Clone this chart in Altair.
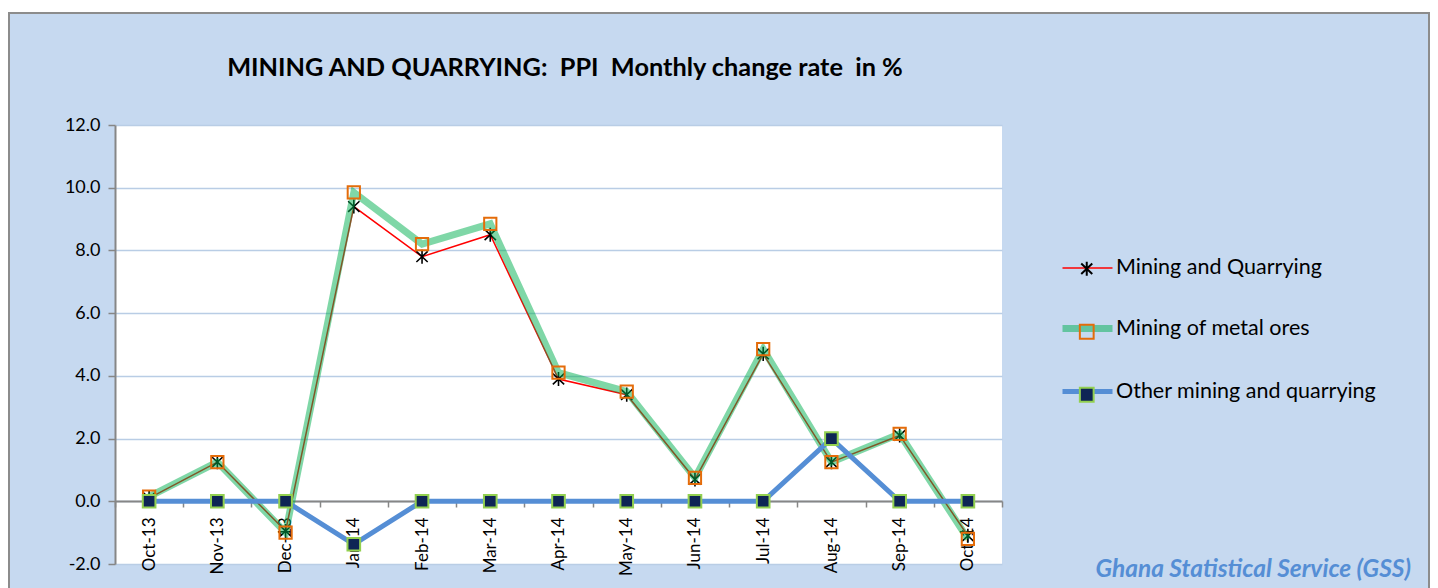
import altair as alt
import pandas as pd

months = ["Oct-13", "Nov-13", "Dec-13", "Jan-14", "Feb-14", "Mar-14", "Apr-14",
          "May-14", "Jun-14", "Jul-14", "Aug-14", "Sep-14", "Oct-14"]
series_names = ["Mining and Quarrying", "Mining of metal ores", "Other mining and quarrying"]
mining_quarrying = [0.1, 1.25, -0.95, 9.4, 7.8, 8.5, 3.9, 3.4, 0.7, 4.7, 1.25, 2.1, -1.1]
metal_ores = [0.15, 1.25, -1.0, 9.85, 8.2, 8.85, 4.1, 3.5, 0.75, 4.85, 1.25, 2.15, -1.2]
other_mining = [0.0, 0.0, 0.0, -1.37, 0.0, 0.0, 0.0, 0.0, 0.0, 0.0, 2.0, 0.0, 0.0]
y_ticks = [-2, 0, 2, 4, 6, 8, 10, 12]
title_text = ["MINING AND QUARRYING:\u00a0 PPI\u00a0 Monthly change rate\u00a0 in %"]
footer_text = ["Ghana Statistical Service (GSS)"]

line_colors = ["#FF0000", "rgba(0,176,80,0.5)", "#558ED5"]
line_widths = [1.5, 7, 5]
pt_keys = ["p1", "p2", "p3"]
STAR = "M0,-1L0,1M-0.8,-0.75L0.8,0.75M-0.8,0.75L0.8,-0.75"
pt_shapes = [STAR, "square", "square"]
pt_fills = ["transparent", "transparent", "#0E2555"]
pt_strokes = ["#000000", "#E46C0A", "#92D050"]

rows = []
for name, key, vals in zip(series_names, pt_keys, [mining_quarrying, metal_ores, other_mining]):
    for m, v in zip(months, vals):
        rows.append({"month": m, "value": v, "series": name, "pt": key})
df = pd.DataFrame(rows)

FONT = "Lato"
W, H = 887, 439

x_enc = alt.X("month:N", sort=months,
              scale=alt.Scale(type="band", domain=months, paddingInner=0, paddingOuter=0),
              axis=alt.Axis(title=None, orient="bottom", offset=-63, labelAngle=270,
                            labelFontSize=17, labelFont=FONT, labelColor="#000000",
                            labelPadding=10, tickBand="extent", tickSize=6,
                            tickColor="#868686", tickWidth=1.5, domainColor="#868686",
                            domainWidth=2, grid=False))
y_enc = alt.Y("value:Q",
              scale=alt.Scale(domain=[-2, 12], nice=False, zero=False),
              axis=alt.Axis(title=None, values=y_ticks,
                            labelExpr="datum.value < 0 ? '-' + format(-datum.value, '.1f') : format(datum.value, '.1f')",
                            labelFontSize=18,
                            labelFont=FONT, labelColor="#000000", labelPadding=8,
                            tickSize=7, tickColor="#868686", tickWidth=1.5,
                            domainColor="#868686", domainWidth=2,
                            gridColor="#B9CDE5", gridWidth=1.5))

line_legend = alt.Legend(title=None, orient="none", legendX=944, legendY=117,
                         symbolSize=2500, labelFontSize=21.5, labelFont=FONT,
                         labelColor="#000000", labelOffset=0, rowPadding=21,
                         labelLimit=500)
pt_legend = alt.Legend(title=None, orient="none", legendX=961, legendY=133,
                       symbolSize=190, symbolStrokeWidth=2, labelFontSize=21.5,
                       labelFont=FONT, labelOpacity=0, labelExpr="' '", labelOffset=6,
                       rowPadding=40, labelLimit=500)

color_enc = alt.Color("series:N", scale=alt.Scale(domain=series_names, range=line_colors),
                      legend=line_legend)
sw_enc = alt.StrokeWidth("series:N",
                         scale=alt.Scale(type="ordinal", domain=series_names, range=line_widths),
                         legend=line_legend)
shape_enc = alt.Shape("pt:N", scale=alt.Scale(domain=pt_keys, range=pt_shapes), legend=pt_legend)
fill_enc = alt.Fill("pt:N", scale=alt.Scale(domain=pt_keys, range=pt_fills), legend=pt_legend)
stroke_enc = alt.Stroke("pt:N", scale=alt.Scale(domain=pt_keys, range=pt_strokes), legend=pt_legend)
pt_sizes = {"p1": 200, "p2": 150, "p3": 160}

base = alt.Chart(df)


def line_layer(name):
    return base.transform_filter(alt.datum.series == name).mark_line().encode(
        x=x_enc, y=y_enc, color=color_enc, strokeWidth=sw_enc)


def point_layer(key):
    return base.transform_filter(alt.datum.pt == key).mark_point(
        size=pt_sizes[key], strokeWidth=2 if key != "p1" else 1.6, opacity=1).encode(
        x=x_enc, y=y_enc, shape=shape_enc, fill=fill_enc, stroke=stroke_enc)


top_strip = alt.Chart(alt.Data(values=[{}])).mark_rect(fill="#FFFFFF").encode(
    x=alt.value(-107), x2=alt.value(1315), y=alt.value(-117), y2=alt.value(-113))

border = alt.Chart(alt.Data(values=[{}])).mark_rect(
    fill="transparent", stroke="#8C8C8C", strokeWidth=2).encode(
    x=alt.value(-106), x2=alt.value(1314), y=alt.value(-112), y2=alt.value(470))

title = alt.Chart(pd.DataFrame({"t": title_text})).mark_text(
    font=FONT, fontSize=25.3, fontWeight="bold", color="#000000",
    align="center", baseline="alphabetic").encode(
    text="t:N", x=alt.value(450), y=alt.value(-49))

footer = alt.Chart(pd.DataFrame({"t": footer_text})).mark_text(
    font=FONT, fontSize=24.5, fontStyle="italic", fontWeight="bold", color="#558ED5",
    align="right", baseline="alphabetic").encode(
    text="t:N", x=alt.value(1296), y=alt.value(452))

chart = alt.layer(
    top_strip,
    line_layer(series_names[0]), point_layer("p1"),
    line_layer(series_names[1]), point_layer("p2"),
    line_layer(series_names[2]), point_layer("p3"),
    border, title, footer,
).properties(
    width=W, height=H,
    autosize=alt.AutoSizeParams(type="none"),
    padding={"left": 107, "top": 117, "right": 428, "bottom": 24},
).configure(background="#C6D9F0").configure_view(fill="#FFFFFF", stroke=None)

chart.save("out.html", embed_options={"renderer": "svg", "actions": False})
